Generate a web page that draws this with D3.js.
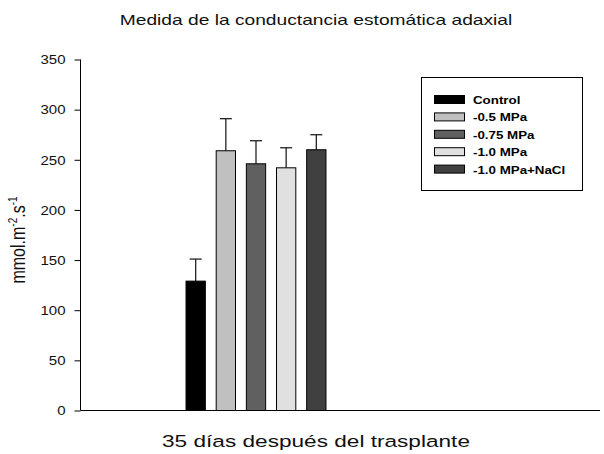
<!DOCTYPE html>
<html>
<head>
<meta charset="utf-8">
<script src="https://cdn.jsdelivr.net/npm/d3@7"></script>
<style>
  body { margin: 0; background: #fff; }
  svg text { font-family: "Liberation Sans", Arial, sans-serif; }
</style>
</head>
<body>
<div id="chart"></div>
<script>
// treatment groups, means and upper error (SE)
const groups = ['Control', '-0.5 MPa', '-0.75 MPa', '-1.0 MPa', '-1.0 MPa+NaCl'];
const means = [129, 259, 246, 242, 260];
const errors = [22, 32, 23, 20, 15];
const colors = ['#000000', '#c0c0c0', '#606060', '#e0e0e0', '#404040'];
const yTicks = [0, 50, 100, 150, 200, 250, 300, 350];

const width = 604, height = 454;
// the original figure's text looks stretched sideways
const SX = 1.3;

const svg = d3.select('#chart').append('svg')
    .attr('width', width)
    .attr('height', height);

const y = d3.scaleLinear().domain([0, 350]).range([410.5, 59.5]);
// bars sit in a small band of the wide x axis
const x = d3.scaleBand().domain(groups).range([180, 332]).paddingInner(0.36).paddingOuter(0.2);

function stretchedText(px, py, sx, size) {
    return svg.append('text')
        .attr('transform', `translate(${px},${py}) scale(${sx},1)`)
        .attr('font-size', size);
}

// title
stretchedText(316, 25, 1.28, 15)
    .attr('text-anchor', 'middle')
    .attr('fill', '#111')
    .text('Medida de la conductancia estomática adaxial');

// y axis
const yAxis = svg.append('g')
    .attr('transform', 'translate(80.5,0)')
    .call(d3.axisLeft(y).tickValues(yTicks).tickSize(6));
yAxis.select('.domain').attr('stroke', '#000').attr('d', `M0,${y(0)}V${y(350)}`);
yAxis.selectAll('.tick line').attr('stroke', '#000');
yAxis.selectAll('.tick text')
    .attr('x', 0).attr('dy', '0.36em')
    .attr('transform', `translate(-15,0) scale(1.25,1)`)
    .attr('font-size', 12).attr('fill', '#111')
    .style('font-family', '"Liberation Sans", Arial, sans-serif');

// x axis baseline
svg.append('line')
    .attr('x1', 80.5).attr('x2', 600)
    .attr('y1', y(0)).attr('y2', y(0))
    .attr('stroke', '#000').attr('stroke-width', 1.2);

// error bars (upper only)
const err = svg.append('g').attr('stroke', '#222').attr('stroke-width', 1.3);
groups.forEach((g, i) => {
    const cx = x(g) + x.bandwidth() / 2;
    err.append('line')
        .attr('x1', cx).attr('x2', cx)
        .attr('y1', y(means[i])).attr('y2', y(means[i] + errors[i]));
    err.append('line')
        .attr('x1', cx - 6).attr('x2', cx + 6)
        .attr('y1', y(means[i] + errors[i])).attr('y2', y(means[i] + errors[i]));
});

// bars
svg.append('g').selectAll('rect')
    .data(groups)
    .join('rect')
    .attr('x', d => x(d))
    .attr('y', (d, i) => y(means[i]))
    .attr('width', x.bandwidth())
    .attr('height', (d, i) => y(0) - y(means[i]))
    .attr('fill', (d, i) => colors[i])
    .attr('stroke', '#000')
    .attr('stroke-width', 1);

// y label (vertical, so the sideways stretch thickens it)
svg.append('text')
    .attr('transform', `translate(25,240) scale(${SX},1) rotate(-90)`)
    .attr('text-anchor', 'middle')
    .attr('font-size', 16)
    .attr('fill', '#111')
    .html('mmol.m<tspan dy="-6" font-size="10">-2</tspan><tspan dy="6">.s</tspan><tspan dy="-6" font-size="10">-1</tspan>');

// x label
stretchedText(316, 447, 1.33, 17)
    .attr('text-anchor', 'middle')
    .attr('fill', '#111')
    .text('35 días después del trasplante');

// legend
const legend = svg.append('g');
legend.append('rect')
    .attr('x', 421.5).attr('y', 77.5)
    .attr('width', 161).attr('height', 113)
    .attr('fill', '#fff').attr('stroke', '#000');
groups.forEach((g, i) => {
    const ly = 95 + i * 17.4;
    legend.append('rect')
        .attr('x', 434.5).attr('y', ly + 0.5)
        .attr('width', 30).attr('height', 8)
        .attr('fill', colors[i]).attr('stroke', '#000');
    legend.append('text')
        .attr('transform', `translate(473,${ly + 9}) scale(1.16,1)`)
        .attr('font-size', 11.5).attr('font-weight', 'bold')
        .text(g);
});
</script>
</body>
</html>
